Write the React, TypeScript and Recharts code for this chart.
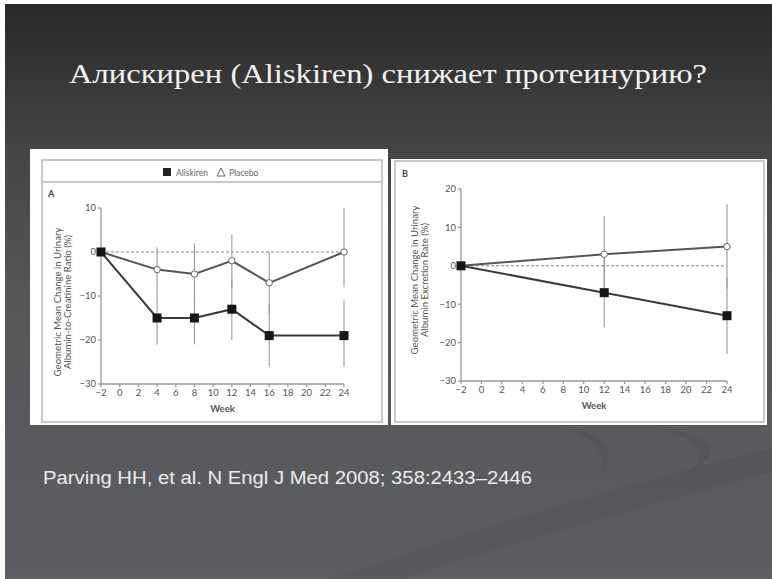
import React from "react";
import { LineChart, Line, XAxis, YAxis, ErrorBar, ReferenceLine, Label } from "recharts";

const weekTicks = [-2, 0, 2, 4, 6, 8, 10, 12, 14, 16, 18, 20, 22, 24];

// Panel A – albumin-to-creatinine ratio
const weeksA = [-2, 4, 8, 12, 16, 24];
const aliskirenA = [0, -15, -15, -13, -19, -19];
const aliskirenLowA = [0, -21, -21, -20, -26, -26];
const aliskirenHighA = [0, -9, -9, -6, -12, -11];
const placeboA = [0, -4, -5, -2, -7, 0];
const placeboLowA = [0, -9, -12, -8, -14, -8];
const placeboHighA = [0, 1, 2, 4, 0, 10];
const yTicksA = [-30, -20, -10, 0, 10];

// Panel B – albumin excretion rate
const weeksB = [-2, 12, 24];
const aliskirenB = [0, -7, -13];
const aliskirenLowB = [0, -16, -23];
const aliskirenHighB = [0, 2, -3];
const placeboB = [0, 3, 5];
const placeboLowB = [0, -7, -6];
const placeboHighB = [0, 13, 16];
const yTicksB = [-30, -20, -10, 0, 10, 20];

const FONT = "Lato, 'Open Sans', sans-serif";

const buildRows = (
  weeks: number[], al: number[], alLo: number[], alHi: number[],
  pl: number[], plLo: number[], plHi: number[]
) =>
  weeks.map((week, i) => ({
    week,
    aliskiren: al[i],
    aliskirenErr: [al[i] - alLo[i], alHi[i] - al[i]],
    placebo: pl[i],
    placeboErr: [pl[i] - plLo[i], plHi[i] - pl[i]],
  }));

const dataA = buildRows(weeksA, aliskirenA, aliskirenLowA, aliskirenHighA, placeboA, placeboLowA, placeboHighA);
const dataB = buildRows(weeksB, aliskirenB, aliskirenLowB, aliskirenHighB, placeboB, placeboLowB, placeboHighB);

const fmt = (v: number) => (v < 0 ? `\u2212${-v}` : `${v}`);

const yTitle = (lines: string[], dx: number, dy: number) => (props: any) => {
  const vb = props.viewBox ?? { x: 0, y: 0, width: 0, height: 0 };
  const x = vb.x + dx;
  const y = vb.y + vb.height / 2 + dy;
  return (
    <text x={x} y={y} transform={`rotate(-90 ${x} ${y})`} textAnchor="middle"
      fontFamily={FONT} fontSize={9.6} fill="#555">
      {lines.map((l, i) => (
        <tspan key={i} x={x} dy={i === 0 ? 0 : 9.5}>{l}</tspan>
      ))}
    </text>
  );
};

const squareDot = (p: any) => (
  <rect key={`sq-${p.index}`} x={p.cx - 4.5} y={p.cy - 4.5} width={9} height={9} fill="#151515" />
);
const openDot = (p: any) => (
  <circle key={`op-${p.index}`} cx={p.cx} cy={p.cy} r={3.2} fill="#fff" stroke="#666" strokeWidth={1} />
);

const tickStyle = { fontFamily: FONT, fontSize: 9.5, fill: "#555" };

interface PanelProps {
  data: any[];
  width: number;
  height: number;
  margin: { top: number; right: number; bottom: number; left: number };
  yDomain: [number, number];
  yTicks: number[];
  yAxisWidth: number;
  labelLines: string[];
  labelDx: number;
  labelDy: number;
}

function Panel({ data, width, height, margin, yDomain, yTicks, yAxisWidth, labelLines, labelDx, labelDy }: PanelProps) {
  return (
    <LineChart width={width} height={height} data={data} margin={margin}>
      <XAxis dataKey="week" type="number" domain={[-2, 24]} ticks={weekTicks} tickFormatter={fmt}
        height={30} tick={tickStyle} tickSize={3} tickMargin={2}
        stroke="#999" strokeWidth={1.3} interval={0}>
        <Label value="Week" position="insideBottom" offset={2}
          style={{ fontFamily: FONT, fontSize: 9.5, fontWeight: 700, fill: "#555" }} />
      </XAxis>
      <YAxis type="number" domain={yDomain} ticks={yTicks} tickFormatter={fmt} width={yAxisWidth}
        tick={tickStyle} tickSize={3} tickMargin={2} stroke="#999" strokeWidth={1.3} interval={0}>
        <Label content={yTitle(labelLines, labelDx, labelDy)} />
      </YAxis>
      <ReferenceLine y={0} stroke="#888" strokeDasharray="3 2" strokeWidth={1} />
      <Line dataKey="placebo" stroke="#555" strokeWidth={2} dot={false} isAnimationActive={false}>
        <ErrorBar dataKey="placeboErr" direction="y" width={0} stroke="#9a9a9a" strokeWidth={1.1} />
      </Line>
      <Line dataKey="aliskiren" stroke="#3a3a3a" strokeWidth={2} dot={false} isAnimationActive={false}>
        <ErrorBar dataKey="aliskirenErr" direction="y" width={0} stroke="#9a9a9a" strokeWidth={1.1} />
      </Line>
      <Line dataKey="placebo" stroke="none" dot={openDot} isAnimationActive={false} legendType="none" />
      <Line dataKey="aliskiren" stroke="none" dot={squareDot} isAnimationActive={false} legendType="none" />
    </LineChart>
  );
}

export default function App() {
  return (
    <div style={{ position: "absolute", left: 0, top: 0, width: 772, height: 579, background: "#fff", overflow: "hidden" }}>
      <svg width={772} height={579} style={{ position: "absolute", left: 0, top: 0 }}>
        <defs>
          <linearGradient id="bg" x1="0" y1="0" x2="0" y2="1">
            <stop offset="0" stopColor="#2a292a" />
            <stop offset="0.25" stopColor="#444445" />
            <stop offset="0.5" stopColor="#555658" />
            <stop offset="1" stopColor="#5d5e62" />
          </linearGradient>
        </defs>
        <rect x={5} y={4} width={767} height={575} fill="url(#bg)" />
        <path d="M 330 579 Q 560 500 772 448 L 772 472 Q 590 520 400 579 Z" fill="rgba(0,0,0,0.05)" />
        <path d="M 560 425 Q 630 440 600 475 Q 612 445 560 425 Z" fill="rgba(0,0,0,0.05)" />
        <path d="M 650 425 Q 745 440 690 472 Q 722 445 650 425 Z" fill="rgba(0,0,0,0.05)" />
        <text x={388} y={83} textAnchor="middle" fontFamily="'Liberation Serif', serif" fontSize={28}
          fill="#f3f3f3" textLength={638} lengthAdjust="spacingAndGlyphs">
          Алискирен (Aliskiren) снижает протеинурию?
        </text>
        <text x={43} y={484} fontFamily="'Liberation Sans', Arial, sans-serif" fontSize={18}
          fill="#ececec" textLength={489} lengthAdjust="spacingAndGlyphs">
          Parving HH, et al. N Engl J Med 2008; 358:2433–2446
        </text>
        {/* panel A frame */}
        <rect x={30} y={149} width={358} height={276} fill="#fff" />
        <rect x={42} y={160} width={340} height={262} fill="none" stroke="#c9c9c9" strokeWidth={2} />
        <line x1={42} y1={182} x2={382} y2={182} stroke="#c9c9c9" strokeWidth={2} />
        <text x={48} y={197} fontFamily={FONT} fontSize={9} fontWeight={700} fill="#444">A</text>
        <rect x={163} y={168} width={8} height={8} fill="#222" />
        <text x={176} y={175.5} fontFamily={FONT} fontSize={8.5} fill="#666">Aliskiren</text>
        <path d="M 221 168 L 225 176 L 217 176 Z" fill="#fff" stroke="#666" strokeWidth={1} />
        <text x={229} y={175.5} fontFamily={FONT} fontSize={8.5} fill="#666">Placebo</text>
        {/* panel B frame */}
        <rect x={391} y={159} width={376} height={266} fill="#fff" />
        <rect x={395} y={161} width={369} height={261} fill="none" stroke="#c9c9c9" strokeWidth={2} />
        <text x={402} y={177} fontFamily={FONT} fontSize={9} fontWeight={700} fill="#444">B</text>
      </svg>
      <div style={{ position: "absolute", left: 30, top: 149 }}>
        <Panel data={dataA} width={358} height={276}
          margin={{ top: 59, right: 44, bottom: 11, left: 20 }}
          yDomain={[-30, 10]} yTicks={yTicksA} yAxisWidth={51}
          labelLines={["Geometric Mean Change in Urinary", "Albumin-to-Creatinine Ratio (%)"]}
          labelDx={11} labelDy={6} />
      </div>
      <div style={{ position: "absolute", left: 391, top: 159 }}>
        <Panel data={dataB} width={376} height={266}
          margin={{ top: 30, right: 40, bottom: 14, left: 20 }}
          yDomain={[-30, 20]} yTicks={yTicksB} yAxisWidth={50}
          labelLines={["Geometric Mean Change in Urinary", "Albumin Excretion Rate (%)"]}
          labelDx={7} labelDy={-5} />
      </div>
    </div>
  );
}
